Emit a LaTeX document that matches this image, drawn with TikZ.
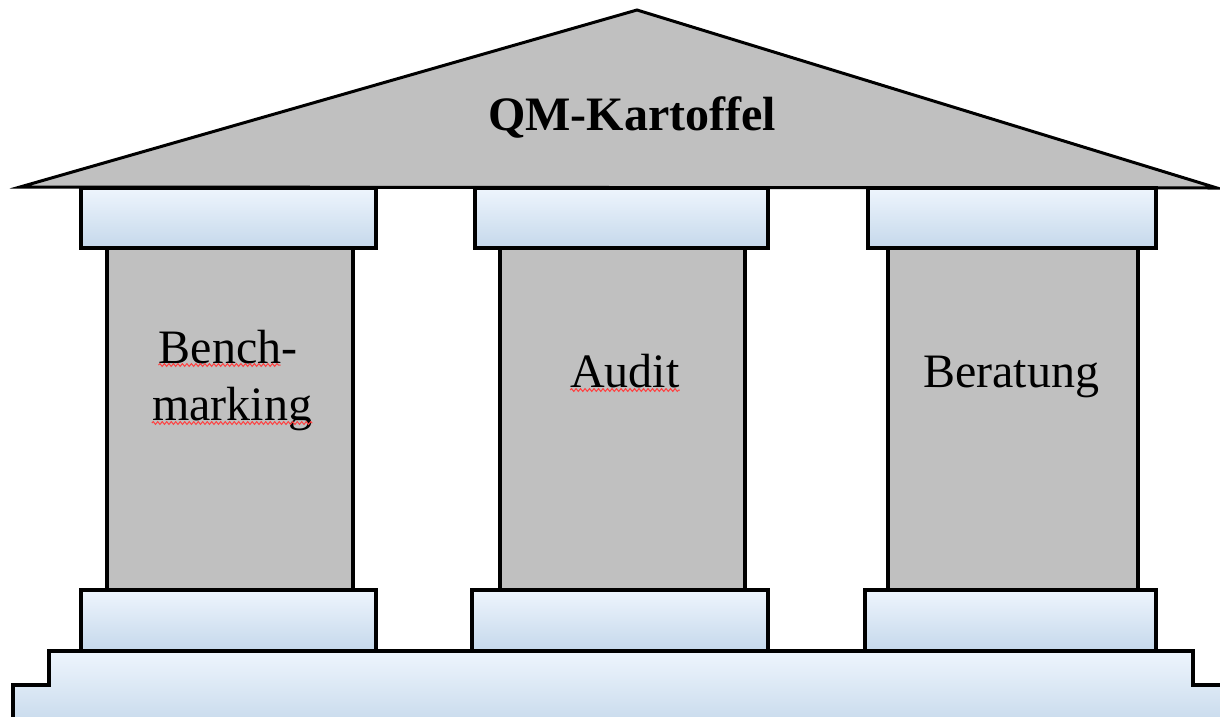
\documentclass[tikz,border=0pt]{standalone}
\usepackage{fontspec}
\setmainfont{Liberation Serif}
\usetikzlibrary{decorations.pathmorphing}
\definecolor{roofgray}{RGB}{192,192,192}
\definecolor{slabtop}{HTML}{EEF5FD}
\definecolor{slabbot}{HTML}{C5D8EB}
\begin{document}
\begin{tikzpicture}[x=1pt,y=-1pt,
	slab/.style={draw=black,line width=4pt,top color=slabtop,bottom color=slabbot},
	shaft/.style={draw=black,line width=4pt,fill=roofgray},
	lettering/.style={font=\fontsize{48}{57}\selectfont,inner sep=0pt,anchor=base},
	squiggle/.style={draw=red!75,line width=1pt,decorate,decoration={snake,amplitude=1.4pt,segment length=4.5pt}}]
			\useasboundingbox (0,0) rectangle (1220,716);
			\clip (0,0) rectangle (1220,716);
			% steps
			\draw[slab] (13,730) -- (13,685) -- (49,685) -- (49,651) -- (1193,651) -- (1193,685) -- (1230,685) -- (1230,730) -- cycle;
			% plinths
			\draw[slab] (81,590) rectangle (376,651);
			\draw[slab] (472,590) rectangle (768,651);
			\draw[slab] (865,590) rectangle (1156,651);
			% shafts
			\draw[shaft] (107,248) rectangle (353,590);
			\draw[shaft] (500,248) rectangle (745,590);
			\draw[shaft] (888,248) rectangle (1138,590);
			% roof
			\draw[shaft,line width=3pt] (20,187) -- (637,10) -- (1217,188) -- cycle;
			% capitals
			\draw[slab] (81,188) rectangle (376,248);
			\draw[slab] (475,188) rectangle (768,248);
			\draw[slab] (868,188) rectangle (1156,248);
			\node[lettering] (title) at (632,130) {\bfseries QM-Kartoffel};
			\node[lettering] (bench) at (228,363) {Bench-};
			\node[lettering] (marking) at (232,420) {marking};
			\node[lettering] (audit) at (625,387) {Audit};
			\node[lettering] (beratung) at (1011,387) {Beratung};
			%	\node at (1011,420){Beratung};
			\draw[squiggle] ([yshift=-2pt]bench.base west) -- ([xshift=-17pt,yshift=-2pt]bench.base east);
			\draw[squiggle] ([yshift=-3pt]marking.base west) -- ([yshift=-3pt]marking.base east);
			\draw[squiggle] ([yshift=-3pt]audit.base west) -- ([yshift=-3pt]audit.base east);
			\end{tikzpicture}
\end{document}
